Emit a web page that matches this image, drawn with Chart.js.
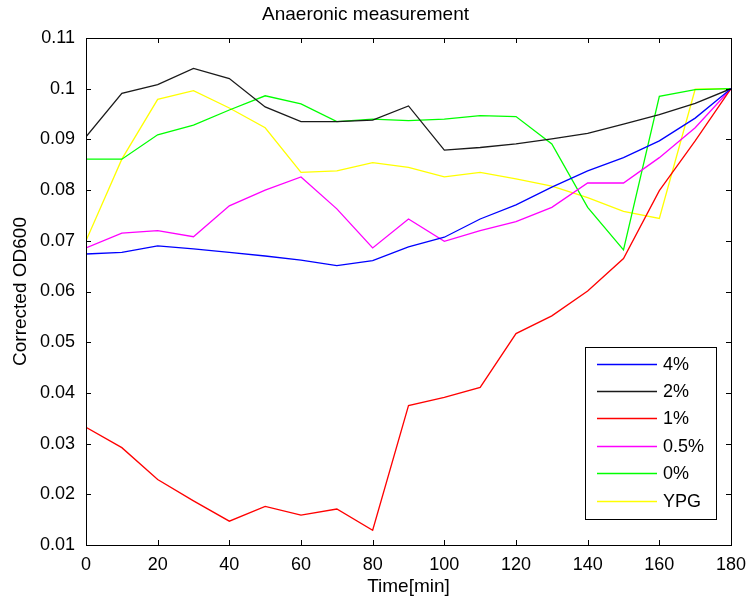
<!DOCTYPE html>
<html>
<head>
<meta charset="utf-8">
<script src="https://cdn.jsdelivr.net/npm/chart.js@4"></script>
<style>
  html, body { margin: 0; padding: 0; background: #fff; }
  #wrap { width: 747px; height: 603px; }
</style>
</head>
<body>
<div id="wrap"><canvas id="odChart" width="747" height="603"></canvas></div>
<script>
const times = [0, 10, 20, 30, 40, 50, 60, 70, 80, 90, 100, 110, 120, 130, 140, 150, 160, 170, 180];
const seriesLabels = ['4%', '2%', '1%', '0.5%', '0%', 'YPG'];
const seriesColors = ['#0000ff', '#1a1a1a', '#ff0000', '#ff00ff', '#00ff00', '#ffff00'];

const od4 =   [0.0674, 0.0677, 0.0690, 0.0684, 0.0677, 0.0670, 0.0662, 0.0651, 0.0661, 0.0688, 0.0707, 0.0743, 0.0771, 0.0806, 0.0838, 0.0864, 0.0897, 0.0942, 0.1000];
const od2 =   [0.0905, 0.0991, 0.1008, 0.1040, 0.1020, 0.0964, 0.0935, 0.0935, 0.0938, 0.0966, 0.0879, 0.0884, 0.0891, 0.0901, 0.0912, 0.0930, 0.0949, 0.0971, 0.1000];
const od1 =   [0.0332, 0.0292, 0.0229, 0.0187, 0.0147, 0.0176, 0.0159, 0.0171, 0.0129, 0.0375, 0.0391, 0.0411, 0.0517, 0.0552, 0.0601, 0.0665, 0.0799, 0.0897, 0.1000];
const od05 =  [0.0686, 0.0715, 0.0720, 0.0708, 0.0769, 0.0800, 0.0826, 0.0763, 0.0686, 0.0743, 0.0699, 0.0720, 0.0738, 0.0766, 0.0814, 0.0814, 0.0864, 0.0923, 0.1000];
const od0 =   [0.0861, 0.0861, 0.0909, 0.0928, 0.0958, 0.0986, 0.0970, 0.0935, 0.0940, 0.0937, 0.0940, 0.0947, 0.0945, 0.0891, 0.0766, 0.0682, 0.0985, 0.0998, 0.1000];
const odYpg = [0.0700, 0.0861, 0.0979, 0.0996, 0.0962, 0.0923, 0.0835, 0.0838, 0.0854, 0.0845, 0.0826, 0.0835, 0.0822, 0.0808, 0.0785, 0.0758, 0.0744, 0.0999, 0.1000];
const seriesValues = [od4, od2, od1, od05, od0, odYpg];

const yMin = 0.01, yMax = 0.11, yStep = 0.01;
const xMin = 0, xMax = 180, xStep = 20;

const FONT = "'Liberation Sans',Arial,sans-serif";

// matlab style box with inward ticks on every side
const boxTicksPlugin = {
  id: 'boxTicks',
  afterDatasetsDraw(chart) {
    const { ctx, chartArea: a, scales } = chart;
    const len = 5;
    ctx.save();
    ctx.strokeStyle = '#000';
    ctx.lineWidth = 1;
    ctx.beginPath();
    scales.x.ticks.forEach(t => {
      const px = Math.round(scales.x.getPixelForValue(t.value)) + 0.5;
      ctx.moveTo(px, a.bottom); ctx.lineTo(px, a.bottom - len);
      ctx.moveTo(px, a.top); ctx.lineTo(px, a.top + len);
    });
    scales.y.ticks.forEach(t => {
      const py = Math.round(scales.y.getPixelForValue(t.value)) + 0.5;
      ctx.moveTo(a.left, py); ctx.lineTo(a.left + len, py);
      ctx.moveTo(a.right, py); ctx.lineTo(a.right - len, py);
    });
    ctx.stroke();
    ctx.strokeRect(Math.round(a.left) + 0.5, Math.round(a.top) + 0.5,
      Math.round(a.right - a.left), Math.round(a.bottom - a.top));
    ctx.restore();
  }
};

// legend box in the lower right corner
const boxLegendPlugin = {
  id: 'boxLegend',
  afterDatasetsDraw(chart) {
    const { ctx } = chart;
    const x0 = 585, y0 = 347, w = 131, h = 172;
    const rowGap = 27.4, firstRow = 363.5;
    ctx.save();
    ctx.fillStyle = '#fff';
    ctx.fillRect(x0, y0, w, h);
    ctx.strokeStyle = '#000';
    ctx.lineWidth = 1;
    ctx.strokeRect(x0 + 0.5, y0 + 0.5, w, h);
    ctx.font = '18px ' + FONT;
    ctx.textBaseline = 'middle';
    ctx.textAlign = 'left';
    chart.data.datasets.forEach((ds, i) => {
      const y = Math.round(firstRow + i * rowGap) + 0.5;
      ctx.strokeStyle = ds.borderColor;
      ctx.lineWidth = 1.3;
      ctx.beginPath();
      ctx.moveTo(597, y);
      ctx.lineTo(657, y);
      ctx.stroke();
      ctx.fillStyle = '#000';
      ctx.fillText(ds.label, 663, y + 1);
    });
    ctx.restore();
  }
};

new Chart(document.getElementById('odChart'), {
  type: 'line',
  data: {
    labels: times,
    datasets: seriesLabels.map((label, i) => ({
      label,
      data: times.map((t, k) => ({ x: t, y: seriesValues[i][k] })),
      borderColor: seriesColors[i],
      backgroundColor: seriesColors[i],
      borderWidth: 1.3,
      pointRadius: 0,
      tension: 0,
      fill: false
    }))
  },
  options: {
    responsive: false,
    animation: false,
    layout: { padding: { top: 0, right: 16, bottom: 0, left: 0 } },
    plugins: {
      legend: { display: false },
      tooltip: { enabled: false },
      title: {
        display: true,
        text: 'Anaeronic measurement',
        color: '#000',
        font: { family: FONT, size: 19, weight: 'normal', lineHeight: 1.2 },
        padding: { top: 3, bottom: 12.2 }
      }
    },
    scales: {
      x: {
        type: 'linear',
        min: xMin,
        max: xMax,
        afterFit: (s) => { s.height = 58; s.paddingLeft = 0; s.paddingRight = 0; },
        grid: { display: false, drawTicks: false },
        border: { display: false },
        ticks: {
          stepSize: xStep,
          color: '#000',
          padding: 9,
          maxRotation: 0,
          font: { family: FONT, size: 18 }
        },
        title: {
          display: true,
          text: 'Time[min]',
          color: '#000',
          font: { family: FONT, size: 19 },
          padding: { top: 0, bottom: 5 }
        }
      },
      y: {
        min: yMin,
        max: yMax,
        afterFit: (s) => { s.width = 86; s.paddingTop = 0; s.paddingBottom = 0; },
        grid: { display: false, drawTicks: false },
        border: { display: false },
        ticks: {
          stepSize: yStep,
          color: '#000',
          padding: 11,
          font: { family: FONT, size: 18 },
          callback: (v) => String(+v.toFixed(2))
        },
        title: {
          display: true,
          text: 'Corrected OD600',
          color: '#000',
          font: { family: FONT, size: 19 },
          padding: { top: 9, bottom: 0 }
        }
      }
    }
  },
  plugins: [boxTicksPlugin, boxLegendPlugin]
});
</script>
</body>
</html>
